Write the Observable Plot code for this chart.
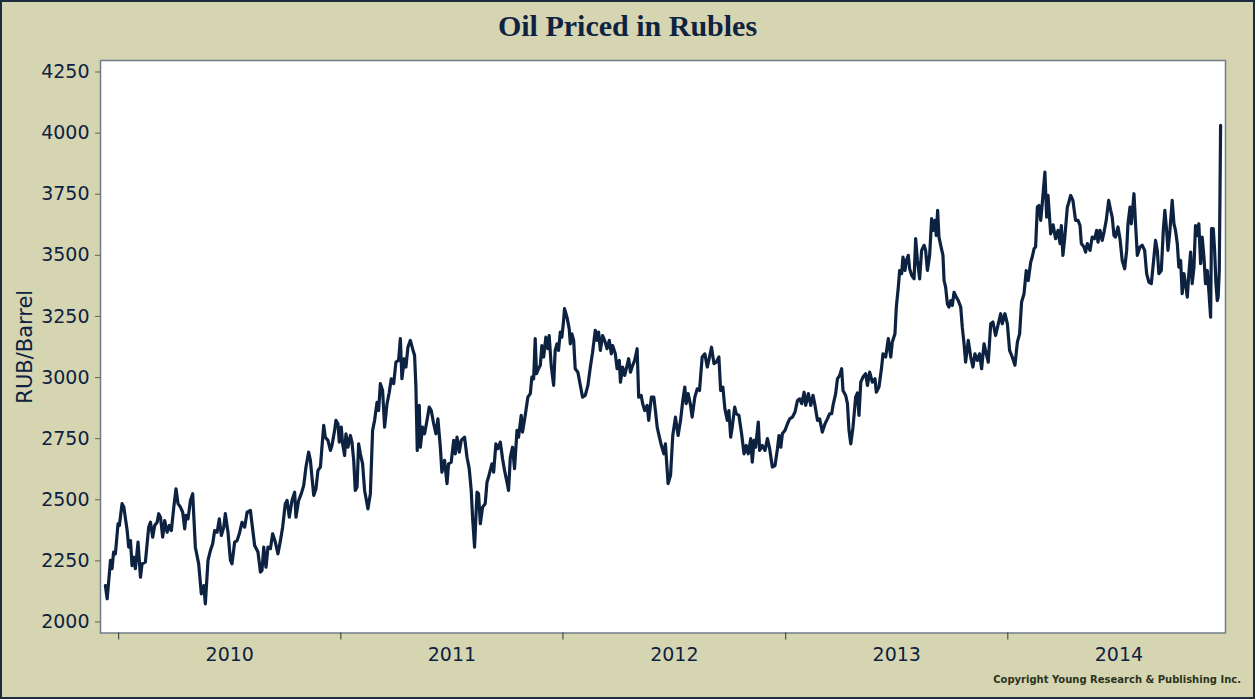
<!DOCTYPE html>
<html>
<head>
<meta charset="utf-8">
<script src="https://cdn.jsdelivr.net/npm/d3@7"></script>
<script src="https://cdn.jsdelivr.net/npm/@observablehq/plot@0.6"></script>
<style>
  html, body { margin: 0; padding: 0; background: #d6d5b2; }
  #wrap { position: relative; width: 1255px; height: 699px; background: #d6d5b2; overflow: hidden; }
  #title { position: absolute; top: 11px; left: 0; width: 1255px; text-align: center;
           font: bold 30px "Liberation Serif", "DejaVu Serif", serif; line-height: 30px; color: #0f2340; }
  #chart { position: absolute; top: 50px; left: 0; }
  #copy { position: absolute; top: 675px; right: 14px; font: bold 10px "DejaVu Sans", Verdana, sans-serif;
          line-height: 10px; color: #2b3320; white-space: nowrap; }
  #border { position: absolute; inset: 0; border: 2px solid #1c2b3d; box-sizing: border-box; pointer-events: none; }
</style>
</head>
<body>
<div id="wrap">
  <div id="title">Oil Priced in Rubles</div>
  <div id="chart"></div>
  <div id="copy">Copyright Young Research &amp; Publishing Inc.</div>
  <div id="border"></div>
</div>
<script>
// Decimal years of each observation
const years = [
2009.940,2009.948,2009.963,2009.970,2009.977,2009.985,2009.997,2010.003,2010.015,2010.023,
2010.038,2010.045,2010.053,2010.060,2010.068,2010.075,2010.087,2010.098,2010.105,2010.120,
2010.135,2010.143,2010.153,2010.162,2010.173,2010.180,2010.188,2010.198,2010.207,2010.218,
2010.228,2010.237,2010.248,2010.258,2010.267,2010.278,2010.288,2010.297,2010.303,2010.312,
2010.323,2010.333,2010.345,2010.360,2010.372,2010.383,2010.390,2010.402,2010.413,2010.423,
2010.432,2010.443,2010.453,2010.462,2010.473,2010.480,2010.492,2010.503,2010.510,2010.522,
2010.533,2010.543,2010.555,2010.567,2010.578,2010.593,2010.600,2010.612,2010.627,2010.638,
2010.645,2010.653,2010.663,2010.672,2010.683,2010.693,2010.705,2010.717,2010.728,2010.738,
2010.750,2010.758,2010.768,2010.780,2010.792,2010.798,2010.810,2010.822,2010.833,2010.843,
2010.855,2010.863,2010.870,2010.878,2010.888,2010.897,2010.908,2010.915,2010.923,2010.930,
2010.942,2010.953,2010.960,2010.972,2010.978,2010.987,2010.993,2011.002,2011.008,2011.017,
2011.023,2011.032,2011.043,2011.050,2011.058,2011.065,2011.073,2011.080,2011.088,2011.098,
2011.107,2011.122,2011.133,2011.143,2011.152,2011.163,2011.170,2011.178,2011.188,2011.197,
2011.208,2011.218,2011.227,2011.238,2011.248,2011.260,2011.268,2011.275,2011.286,2011.293,
2011.302,2011.313,2011.323,2011.332,2011.338,2011.344,2011.353,2011.358,2011.368,2011.377,
2011.388,2011.398,2011.407,2011.418,2011.428,2011.437,2011.448,2011.455,2011.467,2011.478,
2011.485,2011.497,2011.508,2011.515,2011.523,2011.533,2011.542,2011.557,2011.568,2011.578,
2011.587,2011.593,2011.602,2011.613,2011.620,2011.628,2011.638,2011.650,2011.658,2011.665,
2011.680,2011.688,2011.698,2011.707,2011.718,2011.728,2011.737,2011.748,2011.755,2011.763,
2011.773,2011.782,2011.793,2011.800,2011.812,2011.818,2011.830,2011.842,2011.853,2011.860,
2011.868,2011.875,2011.881,2011.890,2011.898,2011.905,2011.913,2011.923,2011.932,2011.938,
2011.947,2011.958,2011.965,2011.973,2011.980,2011.988,2011.995,2012.003,2012.007,2012.018,
2012.028,2012.033,2012.040,2012.048,2012.055,2012.067,2012.078,2012.088,2012.100,2012.112,
2012.123,2012.133,2012.145,2012.153,2012.160,2012.168,2012.178,2012.187,2012.198,2012.208,
2012.217,2012.223,2012.235,2012.243,2012.253,2012.258,2012.268,2012.277,2012.288,2012.295,
2012.303,2012.313,2012.322,2012.333,2012.340,2012.351,2012.358,2012.367,2012.378,2012.385,
2012.397,2012.408,2012.415,2012.423,2012.433,2012.442,2012.453,2012.460,2012.472,2012.483,
2012.493,2012.505,2012.517,2012.528,2012.538,2012.547,2012.553,2012.562,2012.573,2012.580,
2012.592,2012.603,2012.613,2012.625,2012.637,2012.648,2012.658,2012.667,2012.678,2012.688,
2012.700,2012.708,2012.718,2012.727,2012.738,2012.745,2012.753,2012.760,2012.771,2012.778,
2012.790,2012.802,2012.813,2012.823,2012.832,2012.843,2012.850,2012.858,2012.865,2012.877,
2012.883,2012.895,2012.907,2012.918,2012.928,2012.940,2012.952,2012.963,2012.970,2012.978,
2012.985,2012.997,2013.008,2013.018,2013.030,2013.042,2013.053,2013.063,2013.072,2013.083,
2013.090,2013.102,2013.113,2013.123,2013.132,2013.143,2013.153,2013.165,2013.177,2013.188,
2013.198,2013.207,2013.213,2013.225,2013.233,2013.243,2013.252,2013.258,2013.270,2013.278,
2013.285,2013.293,2013.303,2013.315,2013.323,2013.330,2013.338,2013.348,2013.360,2013.368,
2013.378,2013.390,2013.402,2013.408,2013.420,2013.432,2013.438,2013.450,2013.462,2013.473,
2013.480,2013.492,2013.498,2013.507,2013.513,2013.522,2013.528,2013.537,2013.543,2013.552,
2013.558,2013.567,2013.578,2013.585,2013.593,2013.603,2013.612,2013.623,2013.630,2013.638,
2013.648,2013.657,2013.663,2013.672,2013.678,2013.684,2013.690,2013.698,2013.708,2013.713,
2013.720,2013.728,2013.735,2013.743,2013.750,2013.758,2013.768,2013.777,2013.788,2013.795,
2013.803,2013.810,2013.822,2013.833,2013.843,2013.852,2013.863,2013.873,2013.882,2013.893,
2013.903,2013.912,2013.923,2013.933,2013.945,2013.957,2013.968,2013.975,2013.987,2013.998,
2014.008,2014.020,2014.032,2014.043,2014.053,2014.062,2014.073,2014.083,2014.092,2014.103,
2014.110,2014.118,2014.125,2014.133,2014.140,2014.148,2014.155,2014.167,2014.175,2014.181,
2014.193,2014.204,2014.215,2014.226,2014.235,2014.241,2014.248,2014.256,2014.268,2014.275,
2014.283,2014.293,2014.305,2014.316,2014.325,2014.331,2014.343,2014.350,2014.358,2014.370,
2014.380,2014.391,2014.400,2014.406,2014.415,2014.425,2014.433,2014.443,2014.454,2014.463,
2014.470,2014.478,2014.485,2014.496,2014.505,2014.515,2014.526,2014.535,2014.541,2014.550,
2014.556,2014.568,2014.575,2014.583,2014.595,2014.605,2014.616,2014.625,2014.635,2014.646,
2014.655,2014.665,2014.673,2014.680,2014.691,2014.700,2014.707,2014.715,2014.721,2014.730,
2014.740,2014.748,2014.755,2014.763,2014.770,2014.778,2014.785,2014.793,2014.800,2014.808,
2014.815,2014.823,2014.830,2014.838,2014.845,2014.853,2014.860,2014.868,2014.875,2014.883,
2014.890,2014.898,2014.905,2014.913,2014.917,2014.925,2014.931,2014.937,2014.943,2014.947,
2014.952,2014.958
];
// Oil price in rubles per barrel
const rub = [
2149,2095,2252,2218,2286,2279,2402,2395,2484,2470,
2374,2306,2333,2231,2265,2218,2327,2183,2238,2245,
2388,2408,2347,2395,2408,2443,2429,2347,2415,2367,
2395,2374,2470,2545,2484,2470,2449,2381,2436,2422,
2497,2525,2306,2238,2115,2149,2074,2252,2293,2320,
2374,2367,2422,2354,2388,2443,2367,2252,2238,2327,
2333,2361,2408,2388,2449,2456,2402,2313,2286,2204,
2211,2306,2224,2306,2300,2361,2327,2279,2333,2388,
2484,2497,2429,2497,2531,2429,2497,2525,2559,2634,
2695,2661,2593,2518,2545,2620,2634,2715,2804,2756,
2743,2702,2722,2784,2825,2811,2736,2797,2729,2681,
2770,2715,2763,2736,2661,2538,2552,2729,2688,2647,
2538,2463,2525,2784,2825,2899,2865,2975,2947,2797,
2893,2940,2995,2975,3063,3070,3159,2995,3077,3043,
3124,3152,3118,3090,2961,2702,2886,2715,2797,2770,
2825,2879,2865,2811,2770,2831,2715,2613,2661,2566,
2647,2654,2743,2688,2756,2695,2743,2756,2674,2627,
2538,2429,2306,2531,2525,2402,2470,2484,2572,2593,
2647,2613,2729,2709,2736,2668,2620,2572,2538,2674,
2715,2627,2784,2756,2845,2777,2845,2920,2934,3002,
2995,3159,3016,3036,3050,3131,3084,3165,3118,3172,
3050,2968,3111,3138,3111,3186,3165,3234,3282,3247,
3200,3138,3179,3152,3036,3022,2968,2920,2927,2968,
3043,3104,3193,3152,3186,3111,3172,3152,3118,3152,
3097,3131,3097,3036,3070,2981,3043,3009,3050,3077,
3022,3050,3070,3118,2920,2927,2893,2865,2886,2825,
2920,2920,2865,2797,2756,2722,2688,2729,2566,2600,
2763,2838,2763,2825,2906,2961,2893,2934,2886,2838,
2920,2954,2947,3084,3097,3043,3084,3124,3057,3063,
3084,2947,2961,2872,2825,2865,2756,2797,2879,2852,
2845,2770,2688,2722,2688,2750,2654,2743,2715,2818,
2702,2722,2702,2750,2709,2634,2640,2709,2763,2715,
2770,2784,2811,2831,2838,2859,2906,2913,2893,2940,
2886,2934,2886,2927,2886,2825,2831,2777,2811,2831,
2852,2852,2886,2934,2995,3009,3036,2947,2927,2893,
2784,2729,2797,2920,2937,2845,2981,3002,3016,2968,
3022,2981,2995,2940,2961,3043,3097,3084,3159,3084,
3145,3179,3288,3370,3438,3425,3493,3438,3479,3500,
3445,3418,3404,3568,3479,3404,3520,3541,3520,3438,
3500,3650,3602,3643,3581,3684,3575,3541,3500,3397,
3370,3302,3288,3315,3295,3349,3329,3315,3288,3206,
3138,3063,3152,3084,3043,3097,3070,3097,3036,3138,
3097,3063,3220,3227,3172,3220,3261,3220,3261,3220,
3111,3084,3050,3145,3179,3309,3343,3438,3397,3472,
3493,3527,3534,3697,3704,3643,3711,3840,3656,3745,
3588,3625,3568,3602,3548,3622,3500,3568,3697,3718,
3745,3725,3643,3643,3622,3548,3534,3513,3548,3520,
3575,3568,3602,3554,3602,3561,3595,3643,3725,3684,
3656,3581,3575,3616,3568,3479,3445,3520,3629,3697,
3629,3752,3629,3500,3534,3541,3520,3425,3390,3384,
3466,3561,3520,3425,3438,3602,3684,3602,3520,3602,
3725,3629,3602,3548,3452,3479,3343,3425,3384,3329,
3425,3513,3384,3452,3622,3581,3629,3466,3575,3493,
3384,3438,3356,3247,3609,3609,3520,3384,3315,3329,
3438,4032
];
const yTicks = [2000, 2250, 2500, 2750, 3000, 3250, 3500, 3750, 4000, 4250];
const yearTicks = [2010, 2011, 2012, 2013, 2014];   // year boundaries (tick marks)
const yearLabels = [2010.5, 2011.5, 2012.5, 2013.5, 2014.5]; // label positions (mid-year)
const xDomain = [2009.918, 2014.980];
const yDomain = [1955, 4297];

function toDate(t) {
  const y = Math.floor(t);
  const a = Date.UTC(y, 0, 1), b = Date.UTC(y + 1, 0, 1);
  return new Date(a + (t - y) * (b - a));
}

const data = years.map((t, i) => ({date: toDate(t), value: rub[i]}));
const navy = "#0d2240";

const chart = Plot.plot({
  width: 1255,
  height: 649,
  marginLeft: 100,
  marginRight: 30,
  marginTop: 10,
  marginBottom: 66.5,
  style: {background: "transparent", fontFamily: "'DejaVu Sans', Verdana, sans-serif", overflow: "visible"},
  x: {type: "utc", domain: xDomain.map(toDate)},
  y: {domain: yDomain},
  marks: [
    Plot.frame({fill: "white", stroke: "#6f7d87", strokeWidth: 1.5}),
    Plot.axisY(yTicks, {tickSize: 5, tickPadding: 6, fontSize: 19, stroke: "#66644c", fill: navy, label: null, tickFormat: d => String(d)}),
    Plot.axisX(yearTicks.map(toDate), {tickSize: 7, tickPadding: 0, stroke: "#333", tickFormat: () => "", label: null}),
    Plot.axisX(yearLabels.map(toDate), {tickSize: 0, tickPadding: 14, fontSize: 19, fill: navy, tickFormat: d => String(d.getUTCFullYear()), label: null}),
    Plot.line(data, {x: "date", y: "value", stroke: navy, strokeWidth: 3.2, strokeLinejoin: "round"}),
    Plot.text(["RUB/Barrel"], {frameAnchor: "left", dx: -75, rotate: -90, fontSize: 21, fill: navy, textAnchor: "middle", lineAnchor: "middle"})
  ]
});
document.getElementById("chart").appendChild(chart);
</script>
</body>
</html>
